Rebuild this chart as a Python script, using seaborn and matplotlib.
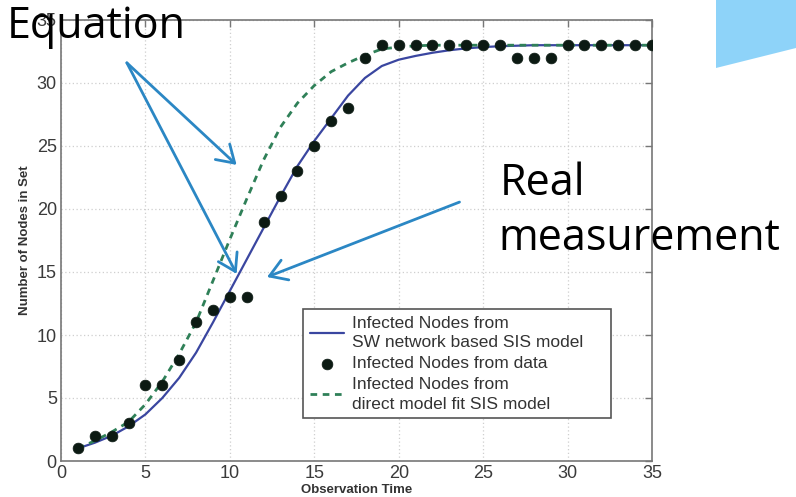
import numpy as np
import pandas as pd
import matplotlib
matplotlib.use("Agg")
import matplotlib.pyplot as plt
from matplotlib.patches import Polygon
import seaborn as sns

# ---------------- data ----------------
obs_time = list(range(1, 36))
infected_data = [1, 2, 2, 3, 6, 6, 8, 11, 12, 13, 13, 19, 21, 23, 25, 27, 28, 32,
                 33, 33, 33, 33, 33, 33, 33, 33, 32, 32, 32, 33, 33, 33, 33, 33, 33]
sw_model = [1.0, 1.45, 2.0, 2.75, 3.7, 5.0, 6.6, 8.6, 11.0, 13.5, 16.0, 18.5, 21.0,
            23.4, 25.4, 27.2, 29.0, 30.4, 31.35, 31.85, 32.15, 32.4, 32.6, 32.75,
            32.85, 32.92, 32.96, 33.0, 33.0, 33.0, 33.0, 33.0, 33.0, 33.0, 33.0]
direct_fit = [1.0, 1.6, 2.3, 3.1, 4.5, 6.3, 8.5, 11.0, 14.3, 17.6, 20.8, 23.9, 26.5,
              28.4, 29.8, 30.9, 31.6, 32.2, 32.7, 32.85, 32.95, 33.0, 33.0, 33.0,
              33.0, 33.0, 33.0, 33.0, 33.0, 33.0, 33.0, 33.0, 33.0, 33.0, 33.0]
x_ticks = [0, 5, 10, 15, 20, 25, 30, 35]
y_ticks = [0, 5, 10, 15, 20, 25, 30, 35]

lbl_sw = "Infected Nodes from\nSW network based SIS model"
lbl_data = "Infected Nodes from data"
lbl_direct = "Infected Nodes from\ndirect model fit SIS model"

df = pd.DataFrame({"t": obs_time, "data": infected_data,
                   "sw": sw_model, "direct": direct_fit})

# ---------------- style ----------------
sns.set_theme(style="white")
plt.rcParams["font.family"] = ["Liberation Sans", "DejaVu Sans"]

W, H = 796, 497
fig = plt.figure(figsize=(W / 100, H / 100), dpi=100)
fig.patch.set_facecolor("white")
ax_l, ax_r, ax_t, ax_b = 61, 652, 20, 461
ax = fig.add_axes([ax_l / W, 1 - ax_b / H, (ax_r - ax_l) / W, (ax_b - ax_t) / H])

blue = "#3a46a0"
green = "#2f8058"
dot = "#0c1a13"

sns.lineplot(data=df, x="t", y="sw", ax=ax, color=blue, lw=1.6, label=lbl_sw, zorder=3)
sns.lineplot(data=df, x="t", y="direct", ax=ax, color=green, lw=2.0,
             linestyle=(0, (2.4, 2.0)), label=lbl_direct, zorder=3)
sns.scatterplot(data=df, x="t", y="data", ax=ax, color=dot, s=60,
                edgecolor=dot, linewidth=0.5, label=lbl_data, zorder=4)

ax.set_xlim(0, 35)
ax.set_ylim(0, 35)
ax.set_xticks(x_ticks)
ax.set_yticks(y_ticks)
ax.grid(True, linestyle=(0, (1, 2)), color="#cfcfcf", linewidth=0.9)
ax.tick_params(direction="in", top=True, right=True, length=5, width=1,
               color="#777777", labelcolor="#3a3a3a", labelsize=13, pad=3)
for s in ax.spines.values():
    s.set_color("#777777")
    s.set_linewidth(1.2)

ax.set_xlabel("Observation Time", fontsize=9.5, fontweight="bold", color="#333333", labelpad=1)
ax.set_ylabel("Number of Nodes in Set", fontsize=9.5, fontweight="bold", color="#333333", labelpad=4)

h, l = ax.get_legend_handles_labels()
order = [l.index(lbl_sw), l.index(lbl_data), l.index(lbl_direct)]
x0 = (303 - ax_l) / (ax_r - ax_l)
wd = (611 - 303) / (ax_r - ax_l)
y_top = (ax_b - 309) / (ax_b - ax_t)
leg = ax.legend([h[i] for i in order], [l[i] for i in order],
                loc="upper left", bbox_to_anchor=(x0, 0.0, wd, y_top), mode="expand",
                fontsize=12.5, frameon=True, fancybox=False, framealpha=1,
                edgecolor="#555555", labelspacing=0.35, handlelength=2.0,
                handletextpad=0.45, borderpad=0.38, borderaxespad=0)
leg.get_frame().set_linewidth(1.2)
for t in leg.get_texts():
    t.set_color("#333333")
    t.set_linespacing(1.36)

# ---------------- annotations ----------------
arrow_c = "#2b87c4"
apk = dict(arrowstyle="->,head_length=0.6,head_width=0.38", color=arrow_c, lw=2.0,
           mutation_scale=20, shrinkA=0, shrinkB=0)
ax.annotate("", xy=(10.4, 23.5), xytext=(3.9, 31.6), arrowprops=apk, annotation_clip=False, zorder=6)
ax.annotate("", xy=(10.4, 14.85), xytext=(3.9, 31.6), arrowprops=apk, annotation_clip=False, zorder=6)
ax.annotate("", xy=(12.2, 14.6), xytext=(23.6, 20.55), arrowprops=apk, annotation_clip=False, zorder=6)

big = dict(fontsize=31, family=["Open Sans", "DejaVu Sans"], color="black", va="baseline", ha="left")
fig.text(7 / W, 1 - 38 / H, "Equation", **big, zorder=10)
fig.text(500 / W, 1 - 195 / H, "Real", **big, zorder=10)
fig.text(498 / W, 1 - 250 / H, "measurement", **big, zorder=10)

# decorative slide shape in the top-right corner
shape = Polygon([[716 / W, 1.0], [1.0, 1.0], [1.0, 1 - 48 / H], [760 / W, 1 - 57 / H],
                 [716 / W, 1 - 68 / H]], closed=True, transform=fig.transFigure,
                facecolor="#8ed3f9", edgecolor="none", zorder=0)
fig.patches.append(shape)

fig.savefig("out.png", dpi=100)
